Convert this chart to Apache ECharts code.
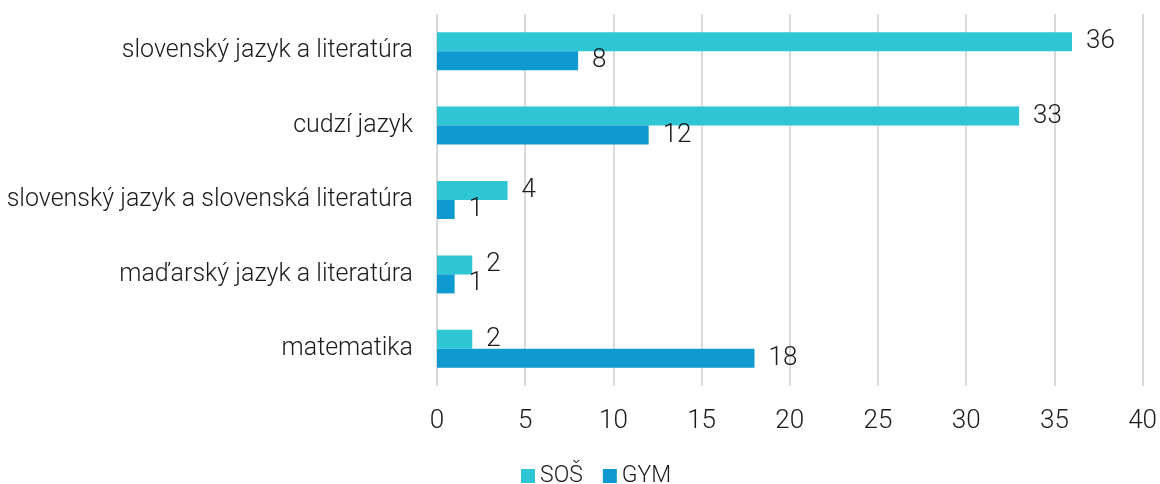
<!DOCTYPE html>
<html><head><meta charset="utf-8">
<script src="https://cdn.jsdelivr.net/npm/echarts@6/dist/echarts.min.js"></script>
<style>html,body{margin:0;padding:0;background:#fff}#c{width:1160px;height:484px}</style>
</head><body><div id="c"></div>
<script>
const categories = ["slovenský jazyk a literatúra","cudzí jazyk","slovenský jazyk a slovenská literatúra","maďarský jazyk a literatúra","matematika"];
const sosValues = [36,33,4,2,2];
const gymValues = [8,12,1,1,18];
const seriesNames = ["SOŠ","GYM"];
const xMin = 0, xMax = 40, xStep = 5;

const font = "Roboto";
const chart = echarts.init(document.getElementById('c'));
const labelStyle = {show:true, position:'right', distance:14, fontFamily:font, fontWeight:300, fontSize:26, color:'#1a1a1a'};
chart.setOption({
  animation:false,
  textStyle:{fontFamily:font},
  grid:{left:437, right:17, top:14, bottom:98, containLabel:false},
  legend:{top:464, left:521, padding:0, itemWidth:14, itemHeight:14, itemGap:20,
    icon:'rect', textStyle:{fontFamily:font, fontWeight:300, fontSize:23, lineHeight:24, color:'#1a1a1a'}, data:seriesNames},
  xAxis:{type:'value', min:xMin, max:xMax, interval:xStep,
    axisLine:{show:false}, axisTick:{show:false},
    splitLine:{show:true, lineStyle:{color:'#d9d9d9', width:2}},
    axisLabel:{margin:22, fontFamily:font, fontWeight:300, fontSize:26, color:'#1a1a1a'}},
  yAxis:{type:'category', data:categories, inverse:true,
    axisLine:{show:false}, axisTick:{show:false},
    axisLabel:{margin:24, fontFamily:font, fontWeight:300, fontSize:25, color:'#1a1a1a'}},
  series:[
    {name:seriesNames[0], type:'bar', data:sosValues, barWidth:19, barGap:'0%',
     itemStyle:{color:'#2EC6D3'}, label:labelStyle},
    {name:seriesNames[1], type:'bar', data:gymValues, barWidth:19, barGap:'0%',
     itemStyle:{color:'#0E9AD0'}, label:labelStyle}
  ]
});
</script></body></html>
